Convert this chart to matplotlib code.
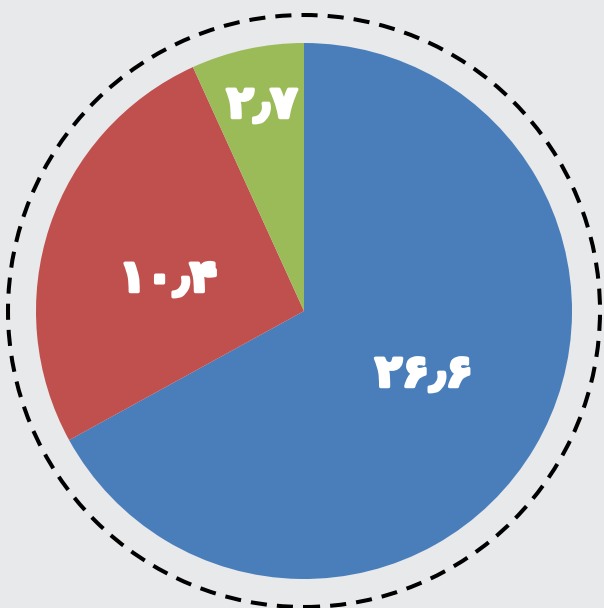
import matplotlib
matplotlib.use("Agg")
import matplotlib.pyplot as plt
import matplotlib.patheffects as pe
from matplotlib.patches import Circle

# slice values and their Persian labels
values = [26.6, 10.4, 2.7]
labels = ["۲۶٫۶", "۱۰٫۴", "۲٫۷"]
colors = ["#4a7ebb", "#c0504d", "#9bbb59"]
label_pos = [(424, 234), (168, 329), (262, 503)]

bg = "#e8e9eb"

fig = plt.figure(figsize=(6.04, 6.08), dpi=100)
fig.patch.set_facecolor(bg)
ax = fig.add_axes([0, 0, 1, 1])
ax.set_facecolor(bg)

cx, cy, r = 304, 297, 268
ax.pie(values, colors=colors, startangle=90, counterclock=False,
       center=(cx, cy), radius=r, frame=True,
       wedgeprops=dict(linewidth=0))

ring = Circle((cx, cy), 296, fill=False, edgecolor="black", linewidth=2.9,
              linestyle=(0, (4.0, 2.5)))
ax.add_patch(ring)

for txt, (x, y) in zip(labels, label_pos):
    ax.text(x, y, txt, color="white", fontsize=32, fontweight="bold",
            family=["DejaVu Sans"], ha="center", va="center",
            path_effects=[pe.withStroke(linewidth=2.5, foreground="white")])

ax.set_xlim(0, 604)
ax.set_ylim(0, 608)
ax.set_aspect("equal")
ax.axis("off")

fig.savefig("out.png", dpi=100, facecolor=bg)
